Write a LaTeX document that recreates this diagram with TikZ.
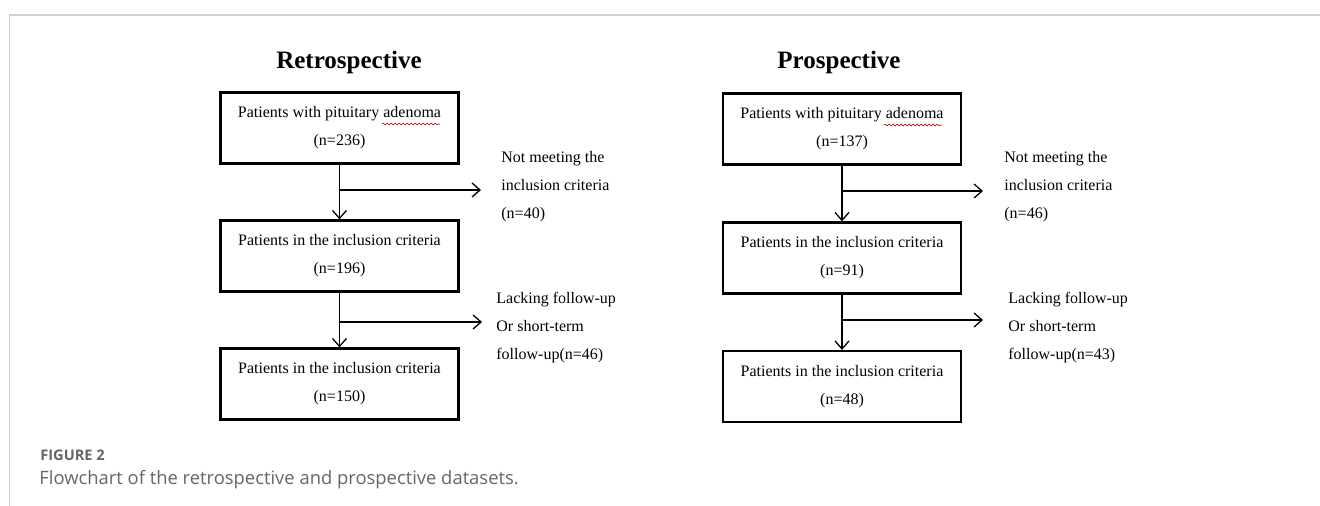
\documentclass[tikz,border=0pt]{standalone}
\usepackage{fontspec}
\setmainfont{Liberation Serif}
\newfontfamily\capfont{Open Sans}
\usetikzlibrary{arrows.meta,decorations.pathmorphing}
\definecolor{framegray}{HTML}{D0D0D0}
\definecolor{capgray}{HTML}{666666}

\begin{document}
\begin{tikzpicture}[x=0.5pt,y=-0.5pt]
    \tikzstyle{stage}=[draw=black,line width=1.1pt,minimum width=119pt,minimum height=35.5pt,align=center,font=\fontsize{8}{14}\selectfont,inner sep=0pt]
    \tikzstyle{note}=[anchor=west,align=left,font=\fontsize{8}{14}\selectfont,inner sep=0pt]
    \tikzstyle{heading}=[font=\fontsize{12.5}{15}\selectfont\bfseries]
    \tikzstyle{flow}=[line width=0.65pt,-{Straight Barb[length=4pt,width=7pt]}]
    \tikzstyle{typo}=[red!80!black,line width=0.3pt,decorate,decoration={snake,amplitude=0.4pt,segment length=2pt}]
    \useasboundingbox (0,0) rectangle (1320,506);
    \draw[framegray,line width=0.75pt] (9.5,506) -- (9.5,15) -- (1320,15);

    \node (retro)[heading] at (349,62) {Retrospective};
    \node (r1)[stage] at (339.5,128) {Patients with pituitary adenoma\\(n=236)};
    \node (r2)[stage] at (339.5,256) {Patients in the inclusion criteria\\(n=196)};
    \node (r3)[stage] at (339.5,384) {Patients in the inclusion criteria\\(n=150)};
    \node (rx1)[note] at (501,187) {Not meeting the\\ inclusion criteria\\ (n=40)};
    \node (rx2)[note] at (496,328) {Lacking follow-up\\Or short-term\\follow-up(n=46)};
    \coordinate (rb1) at (339.5,190);
    \coordinate (rb2) at (339.5,322);
    \coordinate (re1) at (481,190);
    \coordinate (re2) at (482,322);
    \path (r1) edge[flow] (r2);
    \path (r2) edge[flow] (r3);
    \draw[flow] (rb1) -- (re1);
    \draw[flow] (rb2) -- (re2);
    \draw[typo] (382,124) -- (440,124);

    \node (pros)[heading] at (839,62) {Prospective};
    \node (p1)[stage] at (842,129) {Patients with pituitary adenoma\\(n=137)};
    \node (p2)[stage] at (842,258) {Patients in the inclusion criteria\\(n=91)};
    \node (p3)[stage] at (842,386.5) {Patients in the inclusion criteria\\(n=48)};
    \node (px1)[note] at (1004,187) {Not meeting the\\ inclusion criteria\\(n=46)};
    \node (px2)[note] at (1008,328) {Lacking follow-up\\Or short-term\\follow-up(n=43)};
    \coordinate (pb1) at (842,191);
    \coordinate (pb2) at (842,320);
    \coordinate (pe1) at (983,191);
    \coordinate (pe2) at (983,320);
    \path (p1) edge[flow] (p2);
    \path (p2) edge[flow] (p3);
    \draw[flow] (pb1) -- (pe1);
    \draw[flow] (pb2) -- (pe2);
    \draw[typo] (884,125) -- (942,125);

    \node (figno)[anchor=west,inner sep=0pt,text=capgray,font=\capfont\bfseries\fontsize{7.3}{9}\selectfont] at (40,455) {FIGURE 2};
    \node (caption)[anchor=west,inner sep=0pt,text=capgray,font=\capfont\fontsize{9.2}{11}\selectfont] at (39,480) {Flowchart of the retrospective and prospective datasets.};
\end{tikzpicture}
\end{document}
